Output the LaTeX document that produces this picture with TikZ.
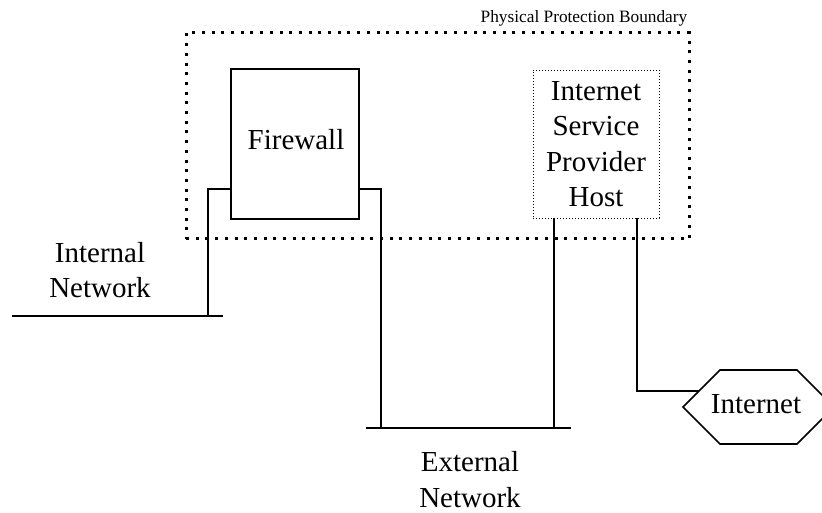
\documentclass[tikz,border=0pt]{standalone}
\usepackage{fontspec}
\setmainfont{Liberation Serif}
\begin{document}
\begin{tikzpicture}[x=1pt,y={(0pt,-1pt)},
  bigtext/.style={font=\fontsize{29}{35.5}\selectfont},
  smalltext/.style={font=\fontsize{17.3}{21}\selectfont},
  devbox/.style={draw, line width=1.2pt, inner sep=0pt},
  ispbox/.style={draw, line width=0.9pt, dash pattern=on 1pt off 2pt, inner sep=0pt, bigtext, align=center},
  boundary/.style={draw, line width=3pt, dash pattern=on 3pt off 6.7pt, inner sep=0pt},
  wire/.style={line width=1.2pt},
  netline/.style={line width=2.6pt},
  hexline/.style={line width=1.6pt, line join=miter}]
\useasboundingbox (0,0) rectangle (822,513);

% boundary
\node[boundary, minimum width=503pt, minimum height=206pt] (ppb) at (437.5,136) {};
\node[smalltext, anchor=base east, inner sep=0pt] (ppbl) at (687.5,23) {Physical Protection Boundary};

% devices
\node[devbox, minimum width=128pt, minimum height=150pt] (fw) at (295,144) {};
\node[bigtext, anchor=base, inner sep=0pt] (fwt) at (296,150) {Firewall};
\node[ispbox, minimum width=126pt, minimum height=148pt] (isp) at (596,144) {Internet\\Service\\Provider\\Host};

% networks
\coordinate (in1) at (12,316);
\coordinate (in2) at (223,316);
\coordinate (inj) at (208,316);
\draw[netline] (in1) -- (in2);
\node[bigtext, align=center, anchor=base, inner sep=0pt] (inlbl) at (100,298) {Internal\\Network};

\coordinate (ex1) at (366,428);
\coordinate (ex2) at (571,428);
\coordinate (exj1) at (381,428);
\coordinate (exj2) at (554,428);
\draw[netline] (ex1) -- (ex2);
\node[bigtext, align=center, anchor=base, inner sep=0pt] (exlbl) at (470,507) {External\\Network};

% internet hexagon
\coordinate (h1) at (683,407);
\coordinate (h2) at (720,370);
\coordinate (h3) at (797,370);
\coordinate (h4) at (834,407);
\coordinate (h5) at (797,444);
\coordinate (h6) at (720,444);
\draw[hexline] (h1) -- (h2) -- (h3) -- (h4) -- (h5) -- (h6) -- cycle;
\node[bigtext, anchor=base, inner sep=0pt] (inet) at (756,413.5) {Internet};
\coordinate (hj) at (699,391);

% connectors
\coordinate (fwl) at (231,189);
\coordinate (fwr) at (359,189);
\draw[wire] (fwl) -| (inj);
\draw[wire] (fwr) -| (exj1);
\draw[wire] (isp.south -| exj2) -- (exj2);
\draw[wire] (isp.south -| 637,0) |- (hj);
\end{tikzpicture}
\end{document}
